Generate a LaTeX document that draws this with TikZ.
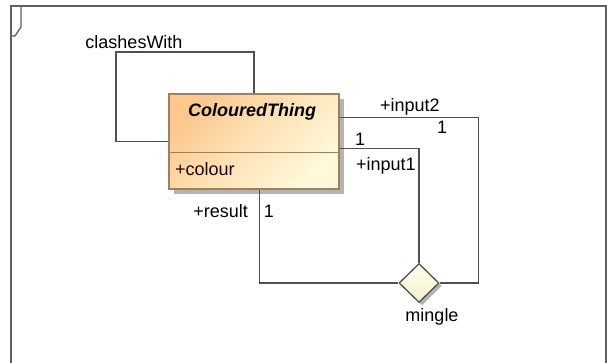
\documentclass[tikz,border=0pt]{standalone}
\usepackage{fontspec}
\setmainfont{Liberation Sans}
\usetikzlibrary{shapes.geometric,shadows,calc}
\definecolor{linegray}{HTML}{505050}
\definecolor{framegray}{HTML}{606060}
\definecolor{classtop}{HTML}{FCC88E}
\definecolor{classbot}{HTML}{FFF9DA}
\definecolor{classedge}{HTML}{A0805C}
\definecolor{diamtop}{HTML}{FFFFF0}
\definecolor{diambot}{HTML}{F6F0C8}
\definecolor{shadowgray}{HTML}{B4B4B4}
\begin{document}
\begin{tikzpicture}[x=1pt,y=-1pt,
  every node/.style={font=\fontsize{18}{21}\selectfont},
  conn/.style={draw=linegray,line width=1.3pt},
  lbl/.style={inner sep=0pt,text=black},
  classbox/.style={rectangle,draw=classedge,line width=1.3pt,
    minimum width=170pt,minimum height=95pt,inner sep=0pt,
    top color=classtop,bottom color=classbot,middle color=classtop!45!classbot,
    shading angle=45,
    general shadow={fill=shadowgray,shadow xshift=5pt,shadow yshift=-5pt}},
  assoc/.style={diamond,draw=linegray,line width=1.3pt,
    minimum width=40pt,minimum height=39pt,inner sep=0pt,
    top color=diamtop,bottom color=diambot,
    general shadow={fill=shadowgray,shadow xshift=3pt,shadow yshift=-3pt}}]
\useasboundingbox (0,0) rectangle (607,362);

% diagram frame with its corner tab
\draw[framegray,line width=1.6pt] (11,375) -- (11,6) -- (606,6) -- (606,375);
\draw[framegray,line width=1.3pt] (21,6) -- (21,27) -- (15,36) -- (11,36);

% class and association nodes
\node[classbox] (cls) at (254,141.5) {};
\node[assoc] (mix) at (419,283) {};

% attribute compartment divider
\draw[classedge,line width=1.3pt] ($(cls.north west)+(0,59)$) -- ($(cls.north east)+(0,59)$);

% connectors
\draw[conn] (cls.west) -| (116,52) -| (cls.north);
\draw[conn] ($(cls.north east)+(0,24)$) -| ($(mix.east)+(39,0)$) -- (mix.east);
\draw[conn] ($(cls.north east)+(0,55)$) -| (mix.north);
\draw[conn] ($(cls.south west)+(91,0)$) |- (mix.west);

% texts
\node[lbl,anchor=base] (title) at (252,116) {\bfseries\itshape ColouredThing};
\node[lbl,anchor=base west,text=black!85!red] (attr) at (175,175) {+colour};
\node[lbl,anchor=base] (selfname) at (134,48) {clashesWith};
\node[lbl,anchor=base west] (in2) at (380,111.5) {+input2};
\node[lbl,anchor=base] (in2m) at (442,133) {1};
\node[lbl,anchor=base] (in1m) at (360,145.5) {1};
\node[lbl,anchor=base west] (in1) at (356,170) {+input1};
\node[lbl,anchor=base east] (res) at (248,217) {+result};
\node[lbl,anchor=base] (resm) at (269,217) {1};
\node[lbl,anchor=base] (mixname) at (432,321) {mingle};
\end{tikzpicture}
\end{document}
